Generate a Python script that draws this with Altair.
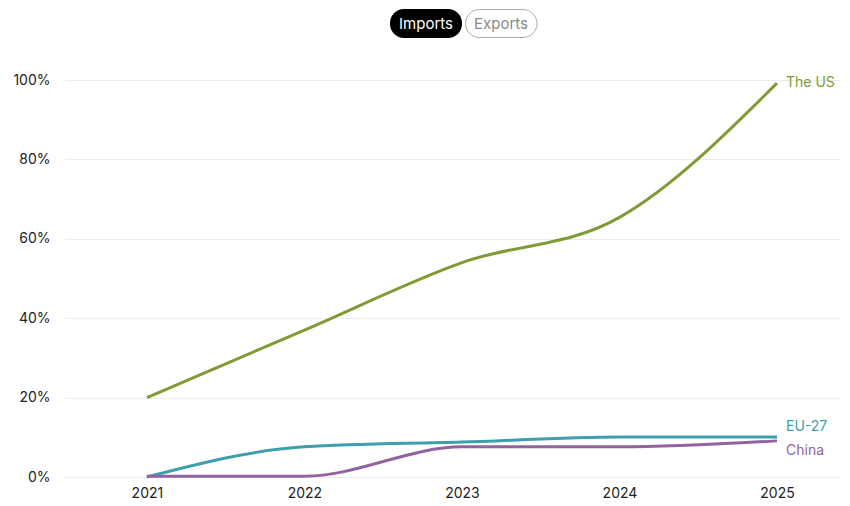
import altair as alt
import pandas as pd

years = [2021, 2022, 2023, 2024, 2025]
us = [0.20, 0.37, 0.54, 0.654, 0.992]
eu = [0.0, 0.076, 0.088, 0.101, 0.101]
china = [0.002, 0.002, 0.076, 0.076, 0.091]
series = ["The US", "EU-27", "China"]
colors = ["#809b35", "#3d9fac", "#93639f"]
label_dy = [0, -10, 10]

rows = []
for name, vals in zip(series, [us, eu, china]):
    for y, v in zip(years, vals):
        rows.append({"year": y, "value": v, "series": name})
df = pd.DataFrame(rows)

last = df[df.year == 2025].copy()

FONT = "Inter"
xscale = alt.Scale(domain=[2020.48, 2025.4], nice=False, zero=False)
yscale = alt.Scale(domain=[0, 1], nice=False)
cscale = alt.Scale(domain=series, range=colors)

base = alt.Chart(df)

lines = base.mark_line(strokeWidth=3, interpolate="monotone").encode(
    x=alt.X("year:Q", scale=xscale,
            axis=alt.Axis(values=years, format="d", grid=False, domain=False, ticks=False,
                          labelPadding=9, labelFontSize=14, labelColor="#222", labelFont=FONT,
                          title=None)),
    y=alt.Y("value:Q", scale=yscale,
            axis=alt.Axis(values=[0, 0.2, 0.4, 0.6, 0.8, 1.0], format=".0%", grid=True,
                          gridColor="#ebebeb", gridWidth=1, domain=False, ticks=False,
                          labelPadding=15, labelFontSize=14, labelColor="#222", labelFont=FONT,
                          title=None)),
    color=alt.Color("series:N", scale=cscale, legend=None),
)

labels = []
for name, dy in zip(series, label_dy):
    labels.append(
        alt.Chart(last[last.series == name]).mark_text(
            align="left", baseline="middle", dx=9, dy=dy, fontSize=14, font=FONT
        ).encode(
            x=alt.X("year:Q", scale=xscale),
            y=alt.Y("value:Q", scale=yscale),
            text="series:N",
            color=alt.Color("series:N", scale=cscale, legend=None),
        )
    )

btn_df = pd.DataFrame({"label": ["Imports", "Exports"]})
pill1 = alt.Chart(btn_df).transform_filter(alt.datum.label == "Imports").mark_rect(
    cornerRadius=14, color="#000"
).encode(x=alt.value(325), x2=alt.value(397), y=alt.value(-71), y2=alt.value(-42))
pill2 = alt.Chart(btn_df).transform_filter(alt.datum.label == "Exports").mark_rect(
    cornerRadius=14, fill="white", stroke="#aaaaaa", strokeWidth=1
).encode(x=alt.value(400.5), x2=alt.value(472), y=alt.value(-70.5), y2=alt.value(-42.5))
t1 = alt.Chart(btn_df).transform_filter(alt.datum.label == "Imports").mark_text(
    fontSize=15, font=FONT, color="white", align="center", baseline="middle"
).encode(x=alt.value(361), y=alt.value(-56), text="label:N")
t2 = alt.Chart(btn_df).transform_filter(alt.datum.label == "Exports").mark_text(
    fontSize=15, font=FONT, color="#8a8a8a", align="center", baseline="middle"
).encode(x=alt.value(436), y=alt.value(-56), text="label:N")

chart = alt.layer(lines, *labels, pill1, pill2, t1, t2).properties(
    width=775, height=397,
    autosize=alt.AutoSizeParams(type="none"),
    padding={"left": 57, "top": 72, "right": 2, "bottom": 28},
).configure(background="white").configure_view(stroke=None)

chart.save("out.html", embed_options={"renderer": "svg", "actions": False})
